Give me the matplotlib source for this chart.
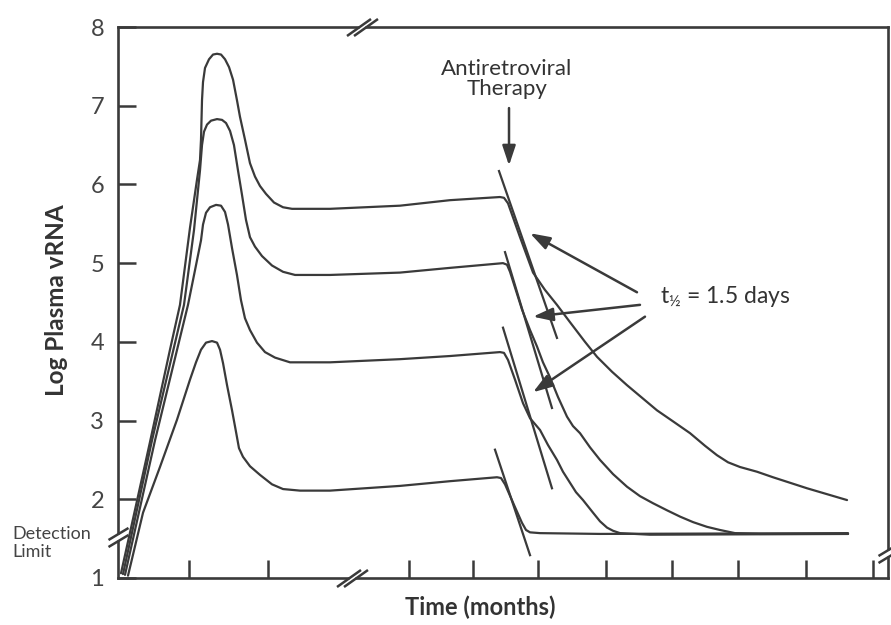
import numpy as np
import matplotlib
matplotlib.use('Agg')
import matplotlib.pyplot as plt
from matplotlib.path import Path

plt.rcParams['font.family'] = ['Lato', 'DejaVu Sans']

# time axis has no units in the source figure, read as 0..100 across the box
# curve A (highest peak) .. curve D (lowest)
time_a = [0.39, 4.16, 6.75, 8.05, 9.35, 10.26, 10.65, 10.78, 10.91, 11.04, 11.30, 11.82,
          12.34, 12.86, 13.38, 13.90, 14.42, 14.94, 15.45, 15.84, 16.49, 17.14, 17.79,
          18.44, 19.22, 20.26, 21.43, 22.60, 23.64, 27.53, 36.62, 43.12, 49.61, 50.13,
          50.65, 52.21, 53.90, 55.45, 57.01, 58.70, 60.65, 62.21, 64.16, 66.10, 68.05,
          70.00, 72.08, 74.29, 76.23, 77.79, 79.22, 80.78, 82.99, 85.06, 89.48, 94.68]
vrna_a = [1.06, 2.73, 3.90, 4.47, 5.45, 6.06, 6.31, 6.57, 7.07, 7.30, 7.48, 7.59,
          7.65, 7.66, 7.65, 7.59, 7.49, 7.33, 7.07, 6.86, 6.57, 6.27, 6.10,
          5.98, 5.88, 5.77, 5.71, 5.69, 5.69, 5.69, 5.73, 5.80, 5.84, 5.83,
          5.76, 5.33, 4.88, 4.66, 4.47, 4.25, 4.00, 3.81, 3.62, 3.45, 3.29,
          3.13, 2.99, 2.84, 2.68, 2.56, 2.47, 2.41, 2.35, 2.28, 2.14, 1.99]

time_b = [0.65, 4.42, 8.57, 9.87, 10.65, 10.91, 11.17, 11.56, 12.08, 12.86, 13.51, 14.03,
          14.55, 15.06, 15.58, 16.10, 16.62, 17.14, 17.79, 18.70, 20.00, 21.43, 22.99,
          27.53, 36.62, 43.12, 50.00, 50.52, 50.91, 52.47, 53.51, 54.42, 55.19, 56.10,
          57.14, 58.31, 59.09, 60.00, 61.30, 62.60, 64.29, 66.10, 67.79, 69.48, 71.30,
          72.99, 74.68, 76.49, 78.18, 80.13, 83.38, 94.81]
vrna_b = [1.05, 2.75, 4.47, 5.42, 6.18, 6.50, 6.67, 6.76, 6.81, 6.83, 6.82, 6.78,
          6.68, 6.50, 6.18, 5.87, 5.55, 5.33, 5.21, 5.09, 4.97, 4.89, 4.85,
          4.85, 4.88, 4.94, 5.00, 4.98, 4.89, 4.41, 4.15, 3.94, 3.74, 3.55,
          3.30, 3.05, 2.93, 2.84, 2.66, 2.50, 2.32, 2.16, 2.04, 1.95, 1.86,
          1.78, 1.71, 1.65, 1.61, 1.57, 1.56, 1.56]

time_c = [0.91, 4.81, 9.09, 10.00, 10.78, 11.04, 11.43, 11.95, 12.73, 13.38, 13.90, 14.29,
          14.81, 15.45, 15.97, 16.49, 17.14, 18.05, 19.09, 20.39, 22.34, 27.53, 36.62,
          43.12, 49.61, 50.13, 50.65, 51.56, 52.60, 53.51, 54.81, 55.84, 57.01, 57.79,
          58.70, 59.48, 60.39, 61.69, 62.60, 63.51, 64.29, 65.19, 67.14, 69.09, 94.81]
vrna_c = [1.04, 2.75, 4.47, 4.91, 5.29, 5.49, 5.64, 5.71, 5.74, 5.73, 5.65, 5.49,
          5.19, 4.85, 4.53, 4.30, 4.15, 3.99, 3.87, 3.80, 3.74, 3.74, 3.78,
          3.82, 3.87, 3.86, 3.77, 3.52, 3.22, 3.03, 2.88, 2.69, 2.50, 2.35,
          2.21, 2.09, 1.99, 1.83, 1.72, 1.64, 1.60, 1.57, 1.56, 1.55, 1.56]

time_d = [1.30, 3.25, 5.45, 7.66, 9.35, 10.13, 10.78, 11.43, 12.21, 12.86, 13.25, 13.64,
          14.16, 14.81, 15.32, 15.71, 16.23, 17.14, 18.44, 20.00, 21.43, 23.64, 27.53,
          36.62, 43.12, 49.22, 49.74, 50.26, 51.56, 52.47, 52.99, 53.51, 54.81, 62.60,
          94.81]
vrna_d = [1.03, 1.83, 2.41, 3.01, 3.52, 3.74, 3.90, 3.99, 4.01, 3.99, 3.90, 3.73,
          3.45, 3.13, 2.86, 2.65, 2.54, 2.42, 2.31, 2.19, 2.13, 2.11, 2.11,
          2.17, 2.23, 2.28, 2.27, 2.19, 1.90, 1.70, 1.61, 1.58, 1.57, 1.56,
          1.57]

# half-life slopes drawn after therapy starts (start, end)
slope_t = [(49.48, 57.01), (50.26, 56.36), (50.00, 56.36), (48.96, 53.51)]
slope_v = [(6.17, 4.05), (5.14, 3.16), (4.18, 2.14), (2.63, 1.29)]

x_ticks = [9.2, 19.5, 37.8, 46.1, 54.5, 63.4, 71.9, 80.5, 89.4, 98.1]
y_ticks = [1, 2, 3, 4, 5, 6, 7, 8]

ink = '#3a3a3a'

fig = plt.figure(figsize=(8.91, 6.25), dpi=100)
ax = fig.add_axes([118 / 891, 47 / 625, 770 / 891, 551 / 625])

for t, v in [(time_a, vrna_a), (time_b, vrna_b), (time_c, vrna_c), (time_d, vrna_d)]:
    ax.plot(t, v, color=ink, lw=1.6, solid_joinstyle='round', solid_capstyle='round')

for t, v in zip(slope_t, slope_v):
    ax.plot(t, v, color=ink, lw=1.6)

ax.set_xlim(0, 100)
ax.set_ylim(1, 8)
ax.set_xticks(x_ticks)
ax.set_xticklabels([])
ax.set_yticks(y_ticks)
ax.tick_params(axis='both', direction='in', length=13, width=1.8, color=ink)
ax.tick_params(axis='y', labelsize=17, labelcolor='#444444', pad=10)
for s in ax.spines.values():
    s.set_linewidth(1.9)
    s.set_color(ink)

# axis breaks
def brk_path(vertical):
    if vertical:
        v = [(-10, -9.5), (10, 2.5), (-10, -2.5), (10, 9.5)]
    else:
        v = [(-15.5, -8.5), (8.5, 8.5), (-8.5, -8.5), (15.5, 8.5)]
    return Path(v, [Path.MOVETO, Path.LINETO, Path.MOVETO, Path.LINETO])

def axis_break(x, y, vertical):
    if vertical:
        mask = Path([(0, -3.5), (0, 3.5)], [Path.MOVETO, Path.LINETO])
    else:
        mask = Path([(-3.5, 0), (3.5, 0)], [Path.MOVETO, Path.LINETO])
    ax.plot([x], [y], marker=mask, ms=5, mew=5, mec='white', clip_on=False, zorder=5)
    ax.plot([x], [y], marker=brk_path(vertical), ms=22.3 if not vertical else 14.4,
            mew=1.8, mec=ink, mfc='none', clip_on=False, zorder=6)

axis_break(31.7, 8, False)
axis_break(30.4, 1, False)
axis_break(0, 1.52, True)
axis_break(100, 1.32, True)

head = dict(arrowstyle='-|>,head_length=0.6,head_width=0.2', color=ink, lw=1.8,
            mutation_scale=20, shrinkA=0, shrinkB=0)
ax.text(50.52, 7.34, 'Antiretroviral\nTherapy', ha='center', va='center', fontsize=16,
        color='#333333', linespacing=0.95)
ax.annotate('', xy=(50.78, 6.24), xytext=(50.78, 6.97), arrowprops=head)

ax.text(70.39, 4.57, r'$\mathregular{t_{½}}$ = 1.5 days', ha='left', va='center',
        fontsize=16.5, color='#333333')
for x0, y0, x1, y1 in [(67.4, 4.63, 53.51, 5.38), (67.79, 4.47, 53.9, 4.32),
                       (68.44, 4.32, 53.9, 3.36)]:
    ax.annotate('', xy=(x1, y1), xytext=(x0, y0), arrowprops=head)

fig.text(57 / 891, 1 - 300 / 625, 'Log Plasma vRNA', rotation=90, ha='center', va='center',
         fontsize=17.5, fontweight='bold', color='#333333')
fig.text(480 / 891, 1 - 607 / 625, 'Time (months)', ha='center', va='center',
         fontsize=17, fontweight='bold', color='#333333')
fig.text(12 / 891, 1 - 543 / 625, 'Detection\nLimit', ha='left', va='center',
         fontsize=13, color='#444444', linespacing=1.1)

fig.savefig('out.png', dpi=100)
